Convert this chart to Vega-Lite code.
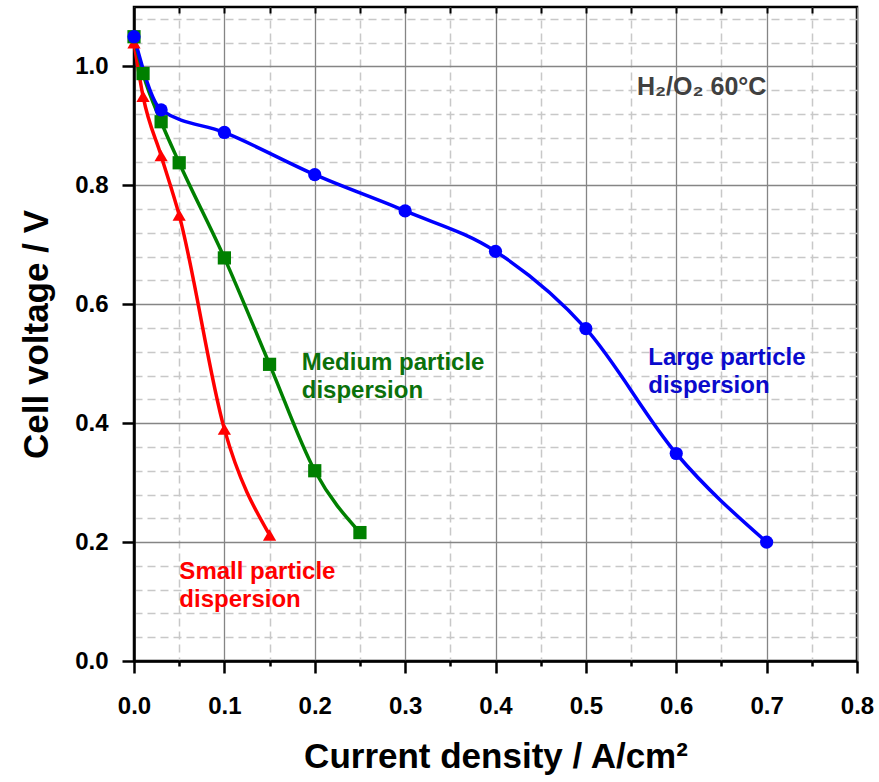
{
  "$schema": "https://vega.github.io/schema/vega-lite/v6.json",
  "width": 723,
  "height": 654,
  "autosize": {"type": "none"},
  "padding": {"left": 134, "top": 7, "right": 22, "bottom": 121},
  "background": "white",
  "config": {
    "view": {"stroke": "black", "strokeWidth": 2.5},
    "font": "Liberation Sans"
  },
  "datasets": {
    "curves": [
      {"series": "Small", "x": 0.0, "y": 1.04},
      {"series": "Small", "x": 0.01, "y": 0.95},
      {"series": "Small", "x": 0.03, "y": 0.85},
      {"series": "Small", "x": 0.05, "y": 0.75},
      {"series": "Small", "x": 0.1, "y": 0.39},
      {"series": "Small", "x": 0.15, "y": 0.212},
      {"series": "Medium", "x": 0.0, "y": 1.05},
      {"series": "Medium", "x": 0.01, "y": 0.988},
      {"series": "Medium", "x": 0.03, "y": 0.907},
      {"series": "Medium", "x": 0.05, "y": 0.838},
      {"series": "Medium", "x": 0.1, "y": 0.678},
      {"series": "Medium", "x": 0.15, "y": 0.499},
      {"series": "Medium", "x": 0.2, "y": 0.32},
      {"series": "Medium", "x": 0.25, "y": 0.216},
      {"series": "Large", "x": 0.0, "y": 1.05},
      {"series": "Large", "x": 0.03, "y": 0.927},
      {"series": "Large", "x": 0.1, "y": 0.889},
      {"series": "Large", "x": 0.2, "y": 0.818},
      {"series": "Large", "x": 0.3, "y": 0.757},
      {"series": "Large", "x": 0.4, "y": 0.689},
      {"series": "Large", "x": 0.5, "y": 0.559},
      {"series": "Large", "x": 0.6, "y": 0.349},
      {"series": "Large", "x": 0.7, "y": 0.2}
    ],
    "labels": [
      {"key": "Medium", "x": 0.1856, "y": 0.49, "text": "Medium particle\ndispersion"},
      {"key": "Large", "x": 0.569, "y": 0.4987, "text": "Large particle\ndispersion"},
      {"key": "Small", "x": 0.0502, "y": 0.1385, "text": "Small particle\ndispersion"},
      {"key": "Cond", "x": 0.5565, "y": 0.9524, "text": "H₂/O₂ 60°C"}
    ]
  },
  "resolve": {"axis": {"x": "independent", "y": "independent"}},
  "layer": [
    {
      "data": {"name": "curves"},
      "mark": {"type": "line", "interpolate": "monotone", "strokeWidth": 3.5},
      "encoding": {
        "x": {
          "field": "x", "type": "quantitative",
          "scale": {"domain": [0, 0.8], "nice": false, "zero": false},
          "axis": {
            "orient": "bottom",
            "values": [0.05, 0.15, 0.25, 0.35, 0.45, 0.55, 0.65, 0.75],
            "grid": true, "gridColor": "#c8c8c8", "gridWidth": 1.5, "gridDash": [8, 5],
            "labels": false, "domain": false, "title": null,
            "ticks": true, "tickSize": 5, "tickWidth": 2.5, "tickColor": "black"
          }
        },
        "y": {
          "field": "y", "type": "quantitative",
          "scale": {"domain": [0, 1.1], "nice": false, "zero": false},
          "axis": {
            "orient": "left",
            "values": [0.04, 0.08, 0.12, 0.16, 0.24, 0.28, 0.32, 0.36, 0.44, 0.48, 0.52, 0.56, 0.64, 0.68, 0.72, 0.76, 0.84, 0.88, 0.92, 0.96, 1.04, 1.08],
            "grid": true, "gridColor": "#c8c8c8", "gridWidth": 1.5, "gridDash": [8, 5],
            "labels": false, "domain": false, "title": null, "ticks": false
          }
        },
        "color": {
          "field": "series", "type": "nominal",
          "scale": {"domain": ["Large", "Medium", "Small"], "range": ["#0000ff", "#008000", "#ff0000"]},
          "legend": null
        },
        "detail": {"field": "series"}
      }
    },
    {
      "data": {"name": "curves"},
      "mark": {"type": "point", "filled": true, "opacity": 1, "size": 175},
      "encoding": {
        "x": {
          "field": "x", "type": "quantitative",
          "axis": {
            "orient": "bottom",
            "values": [0, 0.1, 0.2, 0.3, 0.4, 0.5, 0.6, 0.7, 0.8],
            "format": ".1f",
            "grid": true, "gridColor": "#858585", "gridWidth": 1.3,
            "domain": true, "domainColor": "black", "domainWidth": 2.5,
            "ticks": true, "tickSize": 12, "tickWidth": 2.5, "tickColor": "black",
            "labelFont": "Liberation Sans", "labelFontWeight": "bold", "labelFontSize": 24, "labelColor": "black",
            "labelPadding": 21, "labelFlush": false, "labelOverlap": false,
            "title": "Current density / A/cm²",
            "titleFont": "Liberation Sans", "titleFontWeight": "bold", "titleFontSize": 35, "titleColor": "black",
            "titlePadding": 21
          }
        },
        "y": {
          "field": "y", "type": "quantitative",
          "axis": {
            "orient": "left",
            "values": [0, 0.2, 0.4, 0.6, 0.8, 1.0],
            "format": ".1f",
            "grid": true, "gridColor": "#858585", "gridWidth": 1.3,
            "domain": true, "domainColor": "black", "domainWidth": 2.5,
            "ticks": true, "tickSize": 12, "tickWidth": 2.5, "tickColor": "black",
            "labelFont": "Liberation Sans", "labelFontWeight": "bold", "labelFontSize": 24, "labelColor": "black",
            "labelPadding": 14, "labelFlush": false, "labelOverlap": false,
            "title": "Cell voltage / V",
            "titleFont": "Liberation Sans", "titleFontWeight": "bold", "titleFontSize": 35, "titleColor": "black",
            "titlePadding": 20
          }
        },
        "color": {"field": "series", "type": "nominal", "legend": null},
        "shape": {
          "field": "series", "type": "nominal",
          "scale": {"domain": ["Large", "Medium", "Small"], "range": ["circle", "square", "triangle-up"]},
          "legend": null
        }
      }
    },
    {
      "data": {"name": "labels"},
      "transform": [{"filter": "datum.key === 'Cond'"}],
      "mark": {"type": "text", "align": "left", "baseline": "alphabetic", "font": "Liberation Sans", "fontWeight": "bold", "fontSize": 25, "color": "#404040"},
      "encoding": {
        "x": {
          "field": "x", "type": "quantitative",
          "axis": {
            "orient": "top",
            "values": [0.05, 0.1, 0.15, 0.2, 0.25, 0.3, 0.35, 0.4, 0.45, 0.5, 0.55, 0.6, 0.65, 0.7, 0.75],
            "grid": false, "labels": false, "domain": false, "title": null,
            "ticks": true, "tickSize": -6, "tickWidth": 2, "tickColor": "black"
          }
        },
        "y": {"field": "y", "type": "quantitative", "axis": null},
        "text": {"field": "text"}
      }
    },
    {
      "data": {"name": "labels"},
      "transform": [{"filter": "datum.key === 'Medium'"}],
      "mark": {"type": "text", "align": "left", "baseline": "alphabetic", "lineBreak": "\n", "lineHeight": 28, "font": "Liberation Sans", "fontWeight": "bold", "fontSize": 24, "color": "#0b710b"},
      "encoding": {
        "x": {"field": "x", "type": "quantitative", "axis": null},
        "y": {"field": "y", "type": "quantitative", "axis": null},
        "text": {"field": "text"}
      }
    },
    {
      "data": {"name": "labels"},
      "transform": [{"filter": "datum.key === 'Large'"}],
      "mark": {"type": "text", "align": "left", "baseline": "alphabetic", "lineBreak": "\n", "lineHeight": 28, "font": "Liberation Sans", "fontWeight": "bold", "fontSize": 24, "color": "#0a0acc"},
      "encoding": {
        "x": {"field": "x", "type": "quantitative", "axis": null},
        "y": {"field": "y", "type": "quantitative", "axis": null},
        "text": {"field": "text"}
      }
    },
    {
      "data": {"name": "labels"},
      "transform": [{"filter": "datum.key === 'Small'"}],
      "mark": {"type": "text", "align": "left", "baseline": "alphabetic", "lineBreak": "\n", "lineHeight": 28, "font": "Liberation Sans", "fontWeight": "bold", "fontSize": 24, "color": "#ff0000"},
      "encoding": {
        "x": {"field": "x", "type": "quantitative", "axis": null},
        "y": {"field": "y", "type": "quantitative", "axis": null},
        "text": {"field": "text"}
      }
    }
  ]
}
